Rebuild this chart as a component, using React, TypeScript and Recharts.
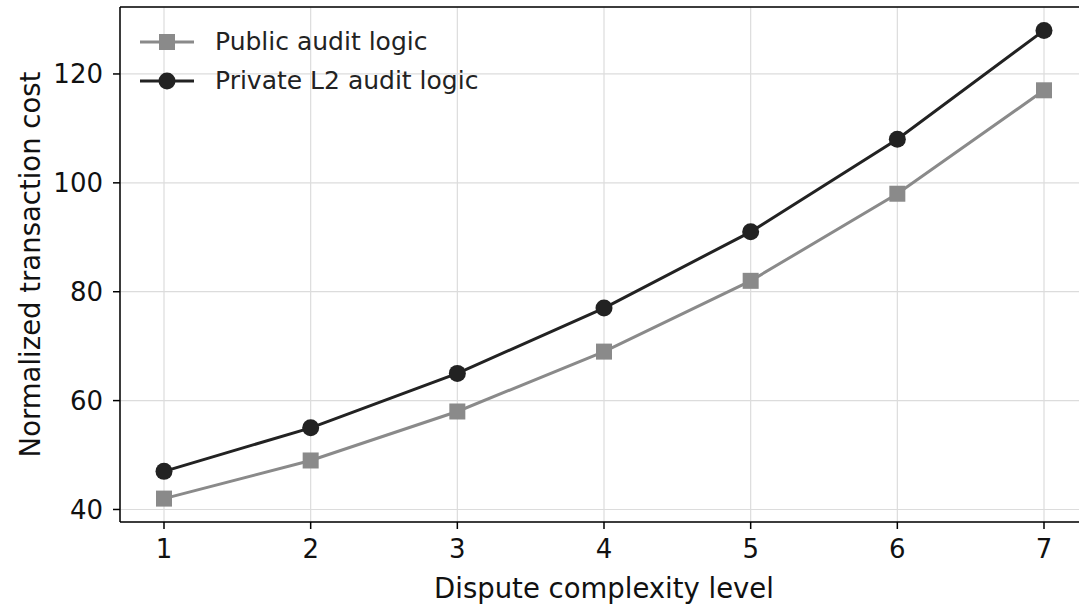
import React from 'react';
import { LineChart, Line, XAxis, YAxis, CartesianGrid, ReferenceLine, Label } from 'recharts';

const levels = [1, 2, 3, 4, 5, 6, 7];
const publicCost = [42, 49, 58, 69, 82, 98, 117];
const privateCost = [47, 55, 65, 77, 91, 108, 128];
const yTicks = [40, 60, 80, 100, 120];

const data = levels.map((level, i) => ({ level, pub: publicCost[i], priv: privateCost[i] }));

const FONT = 'DejaVu Sans, sans-serif';
const GRAY = '#8a8a8a';
const DARK = '#222222';
const Y_MAX = 132.3;

const SquareDot = (props: any) => {
  const { cx, cy, index } = props;
  if (cx == null || cy == null) return null;
  return <rect key={`sq-${index}`} x={cx - 8} y={cy - 8} width={16} height={16} fill={GRAY} />;
};

// legend drawn as an overlay so it does not push the plot area around
const LegendBox = () => (
  <div style={{ position: 'absolute', left: 138, top: 22, fontFamily: FONT, fontSize: 25, color: '#222', lineHeight: 1 }}>
    {[
      { name: 'Public audit logic', color: GRAY, square: true },
      { name: 'Private L2 audit logic', color: DARK, square: false },
    ].map((it) => (
      <div key={it.name} style={{ display: 'flex', alignItems: 'center', height: 39 }}>
        <svg width={58} height={20} style={{ marginRight: 19 }}>
          <line x1={2} y1={10} x2={56} y2={10} stroke={it.color} strokeWidth={3} />
          {it.square ? (
            <rect x={21} y={2} width={16} height={16} fill={it.color} />
          ) : (
            <circle cx={29} cy={10} r={8.5} fill={it.color} />
          )}
        </svg>
        <span>{it.name}</span>
      </div>
    ))}
  </div>
);

const App: React.FC = () => {
  return (
    <div style={{ position: 'fixed', left: 0, top: 0, width: 1079, height: 606, overflow: 'hidden', background: '#fff' }}>
      <LineChart width={1100} height={606} data={data} margin={{ top: 7, right: 12, left: 0, bottom: 0 }}>
        <CartesianGrid stroke="#dcdcdc" strokeWidth={1.2} />
        <XAxis
          dataKey="level"
          type="number"
          domain={[0.7, 7.3]}
          ticks={levels}
          allowDataOverflow
          height={84}
          stroke="#000"
          strokeWidth={1.5}
          tickSize={7}
          tick={{ fill: '#111', fontSize: 26, fontFamily: FONT }}
          tickMargin={11}
        >
          <Label
            content={({ viewBox }: any) => (
              <text x={viewBox.x + viewBox.width / 2} y={598} textAnchor="middle" fontSize={27.5} fontFamily={FONT} fill="#111">
                Dispute complexity level
              </text>
            )}
          />
        </XAxis>
        <YAxis
          type="number"
          domain={[37.7, Y_MAX]}
          ticks={yTicks}
          allowDataOverflow
          width={120}
          stroke="#000"
          strokeWidth={1.5}
          tickSize={7}
          tick={{ fill: '#111', fontSize: 26, fontFamily: FONT }}
          tickMargin={10}
        >
          <Label
            content={({ viewBox }: any) => {
              const cx = 30;
              const cy = viewBox.y + viewBox.height / 2;
              return (
                <text x={cx} y={cy} transform={`rotate(-90 ${cx} ${cy})`} textAnchor="middle" dominantBaseline="central" fontSize={27.5} fontFamily={FONT} fill="#111">
                  Normalized transaction cost
                </text>
              );
            }}
          />
        </YAxis>
        <ReferenceLine y={Y_MAX} stroke="#000" strokeWidth={1.5} ifOverflow="visible" />
        <Line
          dataKey="pub"
          name="Public audit logic"
          stroke={GRAY}
          strokeWidth={3}
          dot={SquareDot}
          isAnimationActive={false}
        />
        <Line
          dataKey="priv"
          name="Private L2 audit logic"
          stroke={DARK}
          strokeWidth={3}
          dot={{ r: 8.5, fill: DARK, stroke: DARK, strokeWidth: 0 }}
          isAnimationActive={false}
        />
      </LineChart>
      <LegendBox />
    </div>
  );
};

export default App;
